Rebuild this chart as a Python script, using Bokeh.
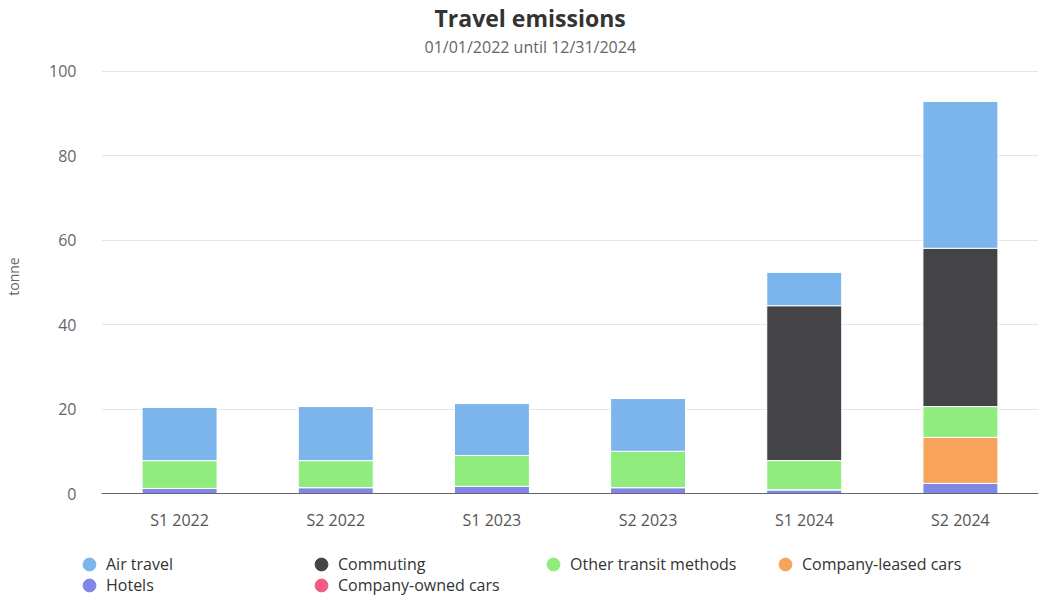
from bokeh.plotting import figure
from bokeh.models import Legend, LegendItem, Title, FactorRange, Range1d, ColumnDataSource
from bokeh.layouts import column, row
from bokeh.embed import file_html
from bokeh.resources import INLINE

categories = ["S1 2022", "S2 2022", "S1 2023", "S2 2023", "S1 2024", "S2 2024"]
hotels = [1.2, 1.4, 1.7, 1.4, 0.9, 2.4]
company_owned = [0, 0, 0, 0, 0, 0]
company_leased = [0, 0, 0, 0, 0, 10.9]
other_transit = [6.6, 6.4, 7.3, 8.6, 6.9, 7.3]
commuting = [0, 0, 0, 0, 36.7, 37.5]
air_travel = [12.6, 12.8, 12.3, 12.5, 7.9, 34.8]
y_ticks = [0, 20, 40, 60, 80, 100]

stack_keys = ["Hotels", "Company-owned cars", "Company-leased cars",
              "Other transit methods", "Commuting", "Air travel"]
stack_colors = ["#8085e9", "#f15c80", "#f7a35c", "#90ed7d", "#434348", "#7cb5ec"]
legend_row1 = ["Air travel", "Commuting", "Other transit methods", "Company-leased cars"]
legend_row2 = ["Hotels", "Company-owned cars"]

data = {"cat": categories, "Hotels": hotels, "Company-owned cars": company_owned,
        "Company-leased cars": company_leased, "Other transit methods": other_transit,
        "Commuting": commuting, "Air travel": air_travel}
source = ColumnDataSource(data)

FONT = "Open Sans"

# frame runs from y=59 to y=493 px; 100 sits 12 px below the frame top
p = figure(x_range=FactorRange(*categories, range_padding=0), y_range=Range1d(0, 102.84),
           width=1041, height=537, output_backend="svg", toolbar_location=None,
           min_border_left=101, min_border_right=3, min_border_top=59, min_border_bottom=44)
p.outline_line_color = None

p.title.text = "Travel emissions"
p.title.text_font = FONT
p.title.text_font_size = "23px"
p.title.text_font_style = "bold"
p.title.text_color = "#333333"
p.title.align = "left"
p.title.offset = 333
p.title.standoff = 0
p.title.vertical_align = "top"
p.add_layout(Title(text="01/01/2022 until 12/31/2024", text_font=FONT, text_font_size="16px",
                   text_font_style="normal", text_color="#666666", align="left",
                   vertical_align="top", offset=323, standoff=0), "above")

p.vbar_stack(stack_keys, x="cat", width=0.48, source=source, color=stack_colors,
             line_color="white", line_width=1)

p.xgrid.grid_line_color = None
p.ygrid.grid_line_color = "#e6e6e6"
p.yaxis.ticker = y_ticks
p.yaxis.axis_line_color = None
p.yaxis.major_tick_line_color = None
p.yaxis.minor_tick_line_color = None
p.yaxis.major_label_text_font = FONT
p.yaxis.major_label_text_font_size = "16px"
p.yaxis.major_label_text_color = "#666666"
p.yaxis.major_label_standoff = 19
p.yaxis.axis_label = "tonne"
p.yaxis.axis_label_text_font = FONT
p.yaxis.axis_label_text_font_size = "14px"
p.yaxis.axis_label_text_font_style = "normal"
p.yaxis.axis_label_text_color = "#666666"
p.yaxis.axis_label_standoff = 23

p.xaxis.axis_line_color = "#666666"
p.xaxis.major_tick_line_color = None
p.xaxis.minor_tick_line_color = None
p.xaxis.major_label_text_font = FONT
p.xaxis.major_label_text_font_size = "16px"
p.xaxis.major_label_text_color = "#555555"
p.xaxis.major_label_standoff = 9

# legend figure below the chart
lf = figure(width=1041, height=60, output_backend="svg", toolbar_location=None,
            x_range=FactorRange(*categories), y_range=Range1d(0, 1),
            min_border_left=0, min_border_right=0, min_border_top=0, min_border_bottom=0)
lf.axis.visible = False
lf.grid.visible = False
lf.outline_line_color = None


def make_legend(names, loc):
    items = []
    for name in names:
        c = stack_colors[stack_keys.index(name)]
        r = lf.scatter(x=[categories[0]], y=[float("nan")], marker="circle",
                       fill_color=c, line_color=c)
        items.append(LegendItem(label=name, renderers=[r]))
    return Legend(items=items, orientation="horizontal", location=loc,
                  glyph_width=32, glyph_height=32, label_height=32, label_width=199,
                  label_standoff=1, spacing=0, padding=0, margin=0,
                  border_line_color=None, background_fill_alpha=0,
                  label_text_font=FONT, label_text_font_size="16px",
                  label_text_color="#333333")


lf.add_layout(make_legend(legend_row1, (73, 17)), "center")
lf.add_layout(make_legend(legend_row2, (73, -4)), "center")

layout = column(p, row(lf), spacing=0)
open("out.html", "w").write(file_html(layout, INLINE))
